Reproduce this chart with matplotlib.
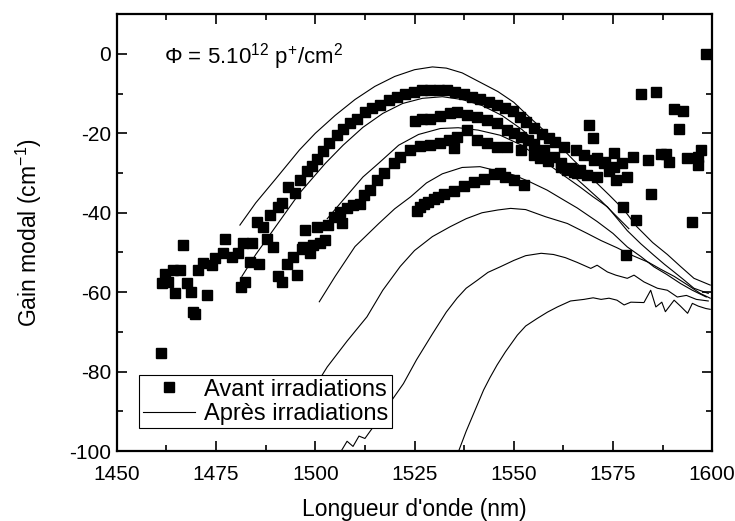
import matplotlib
matplotlib.use("Agg")
import matplotlib.pyplot as plt
from matplotlib import font_manager
from matplotlib.ticker import MultipleLocator

# Font: Arial-like
names = {f.name for f in font_manager.fontManager.ttflist}
fam = 'Liberation Sans' if 'Liberation Sans' in names else 'DejaVu Sans'
plt.rcParams['font.family'] = [fam, 'DejaVu Sans']
plt.rcParams['mathtext.fontset'] = 'custom'
plt.rcParams['mathtext.rm'] = fam
plt.rcParams['axes.unicode_minus'] = False

# ---- Mesures avant irradiations (carrés) ----
s1_x = [1461.2, 1461.3, 1462.1, 1463.0, 1464.2, 1464.6, 1465.9, 1466.7, 1467.6,
        1468.8, 1469.3, 1469.8, 1470.5, 1471.8, 1472.6, 1473.9, 1474.7, 1476.8,
        1477.3, 1478.9, 1480.6, 1481.9, 1484.0, 1483.6, 1485.7, 1481.3, 1482.3,
        1485.2, 1486.9, 1487.8, 1488.6, 1489.4, 1490.7, 1491.5, 1493.2, 1494.9,
        1496.2, 1497.9, 1499.1, 1500.5, 1502.0, 1503.5, 1505.4, 1507.1, 1508.8,
        1510.5, 1512.6, 1514.3, 1516.4, 1518.5, 1520.6, 1522.7, 1524.8, 1526.9,
        1529.0, 1531.1, 1533.2, 1535.3, 1537.4, 1539.5, 1541.6, 1543.7, 1545.8,
        1547.8, 1549.8, 1551.5, 1553.2, 1555.0, 1557.0, 1558.8, 1560.5, 1562.6,
        1565.6, 1567.7, 1570.2, 1572.7, 1575.2]
s1_y = [-75.3, -57.8, -55.3, -57.4, -54.3, -60.1, -54.3, -48.1, -57.8,
        -59.9, -65.0, -65.6, -54.4, -52.7, -60.7, -53.2, -51.5, -50.2,
        -46.5, -51.1, -50.2, -47.7, -47.5, -52.3, -52.8, -58.6, -57.4,
        -42.3, -43.5, -46.5, -40.6, -48.6, -38.5, -37.6, -33.5, -35.1,
        -31.8, -29.5, -28.2, -26.5, -24.5, -22.5, -20.5, -18.8, -17.5,
        -16.3, -14.6, -13.7, -12.9, -11.6, -10.8, -10.0, -9.5, -9.1,
        -9.0, -9.1, -9.1, -9.5, -10.0, -10.8, -11.4, -12.1, -12.8,
        -13.6, -14.4, -15.8, -17.2, -18.6, -20.2, -21.3, -22.1, -23.4,
        -24.2, -25.5, -26.7, -27.6, -28.4]

s2_x = [1525.2, 1527.0, 1529.0, 1531.5, 1534.0, 1535.7, 1538.2, 1540.8, 1543.3,
        1545.8, 1548.3, 1550.0, 1551.7, 1553.5, 1555.1, 1557.6, 1560.1, 1561.8,
        1564.3, 1566.8]
s2_y = [-16.8, -16.5, -16.3, -15.7, -15.0, -14.6, -15.4, -15.8, -16.7,
        -17.5, -19.2, -20.0, -20.9, -21.8, -22.6, -24.2, -25.9, -27.6,
        -28.8, -29.3]

s3_x = [1490.7, 1491.5, 1492.8, 1494.5, 1495.3, 1496.6, 1497.0, 1498.7, 1499.5,
        1501.2, 1502.5, 1497.4, 1500.4, 1503.3, 1504.6, 1506.7, 1506.3, 1508.0,
        1509.6, 1511.3, 1512.2, 1513.8, 1515.5, 1517.2, 1519.7, 1521.4, 1523.9,
        1526.5, 1529.0, 1531.5, 1533.6, 1534.9, 1535.7, 1538.2, 1540.8, 1543.3,
        1545.8, 1548.3, 1551.7, 1555.1, 1556.7, 1558.5, 1561.8, 1565.1]
s3_y = [-56.0, -57.4, -52.8, -51.1, -55.7, -49.0, -48.6, -50.2, -48.1,
        -47.7, -46.9, -44.4, -43.5, -43.1, -41.0, -42.7, -39.8, -38.9,
        -38.1, -37.7, -35.5, -34.3, -31.8, -30.1, -27.6, -25.9, -24.2,
        -23.2, -23.0, -22.5, -21.7, -23.8, -20.9, -19.2, -21.7, -22.5,
        -23.4, -23.4, -24.2, -25.5, -26.3, -27.0, -28.4, -29.7]

s4_x = [1525.6, 1526.5, 1527.3, 1528.5, 1529.8, 1531.0, 1532.4, 1534.9, 1537.4,
        1539.9, 1542.4, 1545.0, 1546.5, 1547.9, 1550.0, 1552.5]
s4_y = [-39.5, -38.5, -37.7, -37.3, -36.5, -36.0, -35.3, -34.5, -33.2,
        -32.2, -31.4, -30.3, -30.0, -31.0, -31.8, -33.0]

s5_x = [1563.5, 1566.0, 1568.5, 1568.9, 1569.9, 1570.9, 1571.0, 1573.0, 1574.0,
        1575.2, 1575.7, 1577.3, 1577.6, 1578.2, 1578.6, 1580.1, 1580.9, 1582.1,
        1583.7, 1584.5, 1585.8, 1587.0, 1588.3, 1589.1, 1590.4, 1591.6, 1592.7,
        1593.7, 1595.0, 1596.3, 1596.3, 1597.1, 1598.5]
s5_y = [-29.3, -30.1, -30.5, -17.9, -21.3, -26.3, -30.9, -27.2, -29.5,
        -24.9, -31.8, -27.6, -38.5, -50.7, -30.9, -25.9, -41.8, -10.1,
        -26.7, -35.3, -9.5, -25.1, -25.1, -27.2, -13.9, -18.9, -14.4,
        -26.3, -42.3, -25.9, -28.0, -24.2, 0.0]

# ---- Mesures après irradiations (courbes) ----
a_x = [1481, 1485, 1490, 1496, 1500, 1505, 1510, 1515, 1520, 1525, 1529.5, 1533,
       1537, 1541.6, 1546, 1550, 1554, 1558.4, 1562, 1565, 1568, 1571, 1574,
       1577.8, 1581, 1585, 1588.7, 1592, 1595.4, 1599.5]
a_y = [-43.1, -37.5, -31.5, -24.2, -20.0, -15.5, -11.5, -8.2, -5.7, -4.0, -3.3,
       -3.6, -4.8, -7.2, -9.5, -12.2, -16.0, -20.0, -23.6, -26.7, -29.6, -32.6,
       -35.5, -39.3, -43.5, -47.5, -50.5, -53.5, -56.5, -58.2]

b_x = [1481.5, 1485, 1490, 1496, 1502.5, 1507, 1512, 1517, 1522, 1527, 1532,
       1537, 1542, 1547, 1552, 1557, 1562, 1567, 1572, 1576, 1579]
b_y = [-56.0, -50.5, -43.5, -35.1, -27.6, -23.0, -18.5, -15.0, -12.5, -11.2,
       -10.8, -11.5, -13.0, -15.5, -19.0, -23.5, -28.0, -32.5, -37.0, -41.0, -44.0]

c_x = [1503, 1507, 1512, 1516, 1521, 1526, 1531.5, 1536, 1541, 1546.6, 1552,
       1558.4, 1562, 1566.8, 1570, 1573.6, 1578.6, 1582, 1585.3, 1588, 1590.4,
       1593, 1595.4, 1599]
c_y = [-41.5, -36.8, -31.0, -27.5, -23.0, -20.3, -18.8, -18.6, -19.2, -20.5,
       -23.0, -27.6, -30.2, -33.6, -36.0, -38.5, -44.5, -47.8, -50.7, -53.0,
       -54.9, -57.0, -59.0, -60.3]

d_x = [1501, 1505, 1510, 1516, 1520, 1524, 1528, 1532, 1537, 1541.5, 1546,
       1550, 1554, 1558.4, 1562.6, 1566, 1571, 1575, 1578.6, 1582, 1585.3,
       1588.5, 1592, 1595, 1598.5]
d_y = [-62.4, -56.0, -48.5, -42.7, -39.0, -36.0, -32.5, -30.2, -28.6, -28.4,
       -29.5, -30.5, -32.2, -34.3, -36.8, -38.8, -42.2, -45.2, -48.6, -51.0,
       -53.6, -55.5, -57.8, -59.5, -61.2]

e_x = [1501, 1503, 1508, 1513, 1517, 1521.4, 1525, 1529.5, 1534, 1538, 1542,
       1546, 1549.2, 1553, 1558, 1563.5, 1568.5, 1572, 1576, 1580, 1584, 1587,
       1590.4, 1594, 1597, 1599.5]
e_y = [-82.0, -78.8, -72.3, -66.2, -59.5, -53.5, -49.5, -46.0, -43.5, -41.5,
       -40.0, -39.3, -38.9, -39.2, -41.0, -42.7, -45.2, -47.0, -48.8, -50.8,
       -52.5, -54.2, -56.0, -58.3, -60.3, -61.5]

f_x = [1506.5, 1508, 1509.5, 1511, 1512.5, 1514.3, 1518, 1522.2, 1525.5, 1529.5,
       1533, 1535.7, 1538, 1540.8, 1543.5, 1546.6, 1550, 1553, 1556.9, 1560,
       1563, 1566, 1569.4, 1571, 1573.6, 1575.7, 1578.6, 1580.3, 1582.8, 1586.2,
       1588.7, 1591.2, 1593.5, 1596, 1599]
f_y = [-100.0, -97.5, -98.8, -96.2, -96.8, -94.3, -89.0, -83.0, -77.0, -70.5,
       -65.0, -61.5, -59.0, -57.0, -55.0, -53.6, -52.0, -50.8, -50.2, -50.5,
       -51.3, -52.5, -54.0, -53.2, -54.9, -55.7, -56.5, -55.7, -57.4, -59.0,
       -59.5, -61.2, -60.8, -61.8, -62.2]

g_x = [1536.1, 1538, 1539.9, 1542.4, 1544, 1545.8, 1547.9, 1550.9, 1553, 1555.9,
       1558.5, 1561, 1564.3, 1567.7, 1570, 1572, 1574, 1576, 1577.8, 1579.5,
       1582.8, 1584.5, 1585.8, 1587.3, 1588.2, 1590.4, 1592, 1593.8, 1595, 1596.5,
       1598.4, 1599.5]
g_y = [-100.0, -95.0, -90.5, -84.6, -81.5, -78.3, -75.0, -70.8, -68.5, -66.6,
       -65.0, -63.7, -62.2, -61.8, -61.4, -61.8, -61.5, -62.0, -63.2, -62.5,
       -62.6, -59.5, -63.7, -62.5, -64.9, -62.0, -63.5, -65.3, -62.8, -63.5,
       -64.1, -64.3]

fig = plt.figure(figsize=(7.35, 5.21), dpi=100)
ax = fig.add_axes([0.159, 0.134, 0.81, 0.839])

sq = dict(marker='s', ls='', color='black', ms=7, mec='black')
ax.plot(s1_x, s1_y, label='Avant irradiations', **sq)
for xs, ys in [(s2_x, s2_y), (s3_x, s3_y), (s4_x, s4_y), (s5_x, s5_y)]:
    ax.plot(xs, ys, **sq)

ln = dict(color='black', lw=0.8)
ax.plot(a_x, a_y, label='Après irradiations', **ln)
for xs, ys in [(b_x, b_y), (c_x, c_y), (d_x, d_y), (e_x, e_y), (f_x, f_y), (g_x, g_y)]:
    ax.plot(xs, ys, **ln)

ax.set_xlim(1450, 1600)
ax.set_ylim(-100, 10)
ax.xaxis.set_major_locator(MultipleLocator(25))
ax.xaxis.set_minor_locator(MultipleLocator(12.5))
ax.yaxis.set_major_locator(MultipleLocator(20))
ax.yaxis.set_minor_locator(MultipleLocator(10))
ax.tick_params(which='both', direction='in', top=True, right=True,
               labelsize=15, width=1.2)
ax.tick_params(which='major', length=7)
ax.tick_params(which='minor', length=4)
ax.tick_params(axis='x', which='major', pad=10)
ax.tick_params(axis='y', which='major', pad=4)
for sp in ax.spines.values():
    sp.set_linewidth(1.6)

ax.set_xlabel("Longueur d'onde (nm)", fontsize=16.5, labelpad=10)
ax.set_ylabel(r'Gain modal (cm$\mathregular{^{-1}}$)', fontsize=16.5, labelpad=18)

ax.text(1462, -0.8, r'Φ = 5.10$\mathregular{^{12}}$ p$\mathregular{^{+}}$/cm$\mathregular{^{2}}$',
        fontsize=16, va='center', ha='left')

leg = ax.legend(loc='lower left', bbox_to_anchor=(0.038, 0.052), borderaxespad=0,
                fontsize=17, handlelength=2.2, fancybox=False, framealpha=1,
                edgecolor='black', numpoints=1, borderpad=0.15, labelspacing=0.1,
                handletextpad=0.4)
leg.get_frame().set_linewidth(0.8)

fig.savefig('out.png', dpi=100)
